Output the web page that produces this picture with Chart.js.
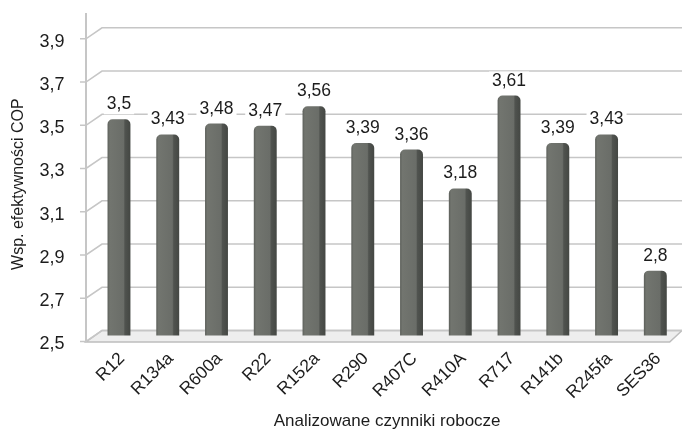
<!DOCTYPE html>
<html><head><meta charset="utf-8">
<script src="https://cdn.jsdelivr.net/npm/chart.js@4.4.1/dist/chart.umd.min.js"></script>
<style>html,body{margin:0;padding:0;background:#fff}#wrap{width:682px;height:433px}</style>
</head><body><div id="wrap"><canvas id="c" width="682" height="433"></canvas></div>
<script>
const categories = ['R12','R134a','R600a','R22','R152a','R290','R407C','R410A','R717','R141b','R245fa','SES36'];
const copValues = [3.5,3.43,3.48,3.47,3.56,3.39,3.36,3.18,3.61,3.39,3.43,2.8];
const yTicks = [2.5,2.7,2.9,3.1,3.3,3.5,3.7,3.9];
const yTitle = 'Wsp. efektywności COP';
const xTitle = 'Analizowane czynniki robocze';

function hasFont(name) {
  const c = document.createElement('canvas').getContext('2d');
  const s = 'mmmmWWWiiilll3,45';
  c.font = '40px monospace';
  const a = c.measureText(s).width;
  c.font = '40px "' + name + '", monospace';
  return Math.abs(c.measureText(s).width - a) > 0.5;
}
const FONT = '"Liberation Sans", Arial, sans-serif';
const NARROW_OK = hasFont('Liberation Sans Narrow');
const NFONT = NARROW_OK ? '"Liberation Sans Narrow", "Liberation Sans", sans-serif' : FONT;
const nsz = s => NARROW_OK ? Math.round(s / 0.82) : s;
const TXT = '#1c1c1c';
const GRID = '#c6c6c6';
const fmt = v => String(v).replace('.', ',');

const frame3d = {
  id: 'frame3d',
  beforeDatasetsDraw(chart) {
    const {ctx, chartArea: a, scales: {y}} = chart;
    const axX = a.left - 8.6, backX = a.left + 7.4, right = chart.width;
    const y0 = y.getPixelForValue(yTicks[0]);
    ctx.save();
    ctx.beginPath();
    ctx.moveTo(axX, y0 + 6.5);
    ctx.lineTo(a.right - 10, y0 + 6.5);
    ctx.lineTo(right, y0 - 5);
    ctx.lineTo(backX, y0 - 5);
    ctx.closePath();
    ctx.fillStyle = '#eeeeee';
    ctx.fill();
    ctx.strokeStyle = '#bdbdbd';
    ctx.lineWidth = 1.5;
    ctx.stroke();
    ctx.strokeStyle = GRID;
    ctx.lineWidth = 1.6;
    yTicks.forEach(v => {
      const m = y.getPixelForValue(v);
      ctx.beginPath();
      ctx.moveTo(axX - 6, m + 6);
      ctx.lineTo(axX, m + 6);
      ctx.lineTo(backX, m - 5);
      ctx.lineTo(right, m - 5);
      ctx.stroke();
    });
    ctx.lineWidth = 2;
    ctx.beginPath();
    ctx.moveTo(axX, 13);
    ctx.lineTo(axX, y0 + 6.5);
    ctx.stroke();
    ctx.restore();
  },
  afterDatasetsDraw(chart) {
    const {ctx} = chart;
    const meta = chart.getDatasetMeta(0);
    ctx.save();
    ctx.font = '17.5px ' + FONT;
    ctx.textAlign = 'center';
    ctx.textBaseline = 'alphabetic';
    meta.data.forEach((bar, i) => {
      const t = fmt(copValues[i]);
      const w = ctx.measureText(t).width;
      const by = bar.y - 10;
      ctx.fillStyle = '#fff';
      ctx.fillRect(bar.x - w / 2 - 3, by - 14, w + 6, 19);
      ctx.fillStyle = TXT;
      ctx.fillText(t, bar.x, by);
    });
    ctx.restore();
  }
};

new Chart(document.getElementById('c'), {
  type: 'bar',
  data: {
    labels: categories,
    datasets: [{
      data: copValues,
      backgroundColor: c => {
        if (c.type !== 'data') return '#6b6e69';
        const ch = c.chart, xs = ch.scales.x;
        if (!xs || !ch.chartArea) return '#6b6e69';
        const cx = xs.getPixelForValue(c.dataIndex);
        const w = xs.width / categories.length * 0.47;
        if (!isFinite(cx) || !isFinite(w)) return '#6b6e69';
        const g = ch.ctx.createLinearGradient(cx - w / 2, 0, cx + w / 2, 0);
        g.addColorStop(0, '#5c5f5a');
        g.addColorStop(0.1, '#72756f');
        g.addColorStop(0.7, '#6a6d68');
        g.addColorStop(0.76, '#50534f');
        g.addColorStop(1, '#444743');
        return g;
      },
      borderWidth: 0,
      borderRadius: {topLeft: 5, topRight: 5, bottomLeft: 0, bottomRight: 0},
      borderSkipped: 'bottom',
      barPercentage: 0.47,
      categoryPercentage: 1
    }]
  },
  options: {
    responsive: false,
    animation: false,
    events: [],
    layout: {padding: {top: 28, right: 2.3, bottom: 0, left: 0}},
    plugins: {legend: {display: false}, tooltip: {enabled: false}},
    scales: {
      y: {
        min: 2.5, max: 3.9,
        afterBuildTicks: s => { s.ticks = yTicks.map(v => ({value: v})); },
        afterFit: s => { s.width = 94.6; },
        grid: {display: false},
        border: {display: false},
        ticks: {
          padding: 22,
          labelOffset: 9,
          color: TXT,
          font: {family: FONT, size: 18},
          callback: v => Number(v).toFixed(1).replace('.', ',')
        },
        title: {display: true, text: yTitle, color: TXT, font: {family: NFONT, size: nsz(16)}, padding: {top: 9, bottom: 0}}
      },
      x: {
        afterFit: s => { s.height = 97.5; },
        grid: {display: false},
        border: {display: false},
        ticks: {
          minRotation: 45, maxRotation: 45,
          padding: 5,
          labelOffset: 3,
          color: TXT,
          font: {family: NFONT, size: nsz(17.5)}
        },
        title: {display: true, text: xTitle, color: TXT, font: {family: NFONT, size: nsz(17)}, padding: {top: 0, bottom: 1}}
      }
    }
  },
  plugins: [frame3d]
});
</script></body></html>
